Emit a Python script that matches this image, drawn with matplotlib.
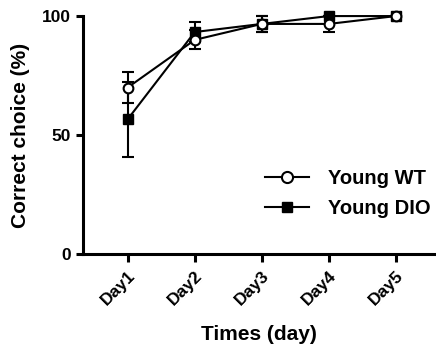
import numpy as np
import matplotlib
matplotlib.use("Agg")
import matplotlib.pyplot as plt
from matplotlib.lines import Line2D

plt.rcParams['font.family'] = ['Liberation Sans', 'DejaVu Sans']
plt.rcParams['font.weight'] = 'bold'

days = ["Day1", "Day2", "Day3", "Day4", "Day5"]
wt_mean = [70.0, 90.0, 96.7, 96.7, 100.0]
wt_err = [6.7, 4.0, 3.3, 3.3, 0.0]
dio_mean = [56.7, 93.3, 96.7, 100.0, 100.0]
dio_err = [15.8, 4.0, 3.3, 0.0, 0.0]

x = np.arange(1, len(days) + 1)

fig = plt.figure(figsize=(4.36, 3.57), dpi=100)
ax = fig.add_axes([0.19, 0.288, 0.81, 0.667])

ax.errorbar(x, dio_mean, yerr=dio_err, color='black', marker='s', ms=6.5,
            mfc='black', mec='black', lw=1.5, elinewidth=1.5, capsize=4,
            capthick=1.5, clip_on=False, zorder=3)
ax.errorbar(x, wt_mean, yerr=wt_err, color='black', marker='o', ms=7,
            mfc='white', mec='black', mew=1.5, lw=1.5, elinewidth=1.5, capsize=4,
            capthick=1.5, clip_on=False, zorder=4)

ax.set_xlim(0.33, 5.6)
ax.set_ylim(0, 100)
ax.set_yticks([0, 50, 100])
ax.set_xticks(x)
ax.set_xticklabels(days, rotation=45, ha='right', rotation_mode='anchor')

for s in ['top', 'right']:
    ax.spines[s].set_visible(False)
for s in ['left', 'bottom']:
    ax.spines[s].set_linewidth(2.2)
ax.tick_params(axis='both', width=2.2, length=5, labelsize=12.5)
ax.tick_params(axis='x', length=6, pad=4)

ax.set_ylabel('Correct choice (%)', fontsize=15, fontweight='bold', labelpad=9)
ax.set_xlabel('Times (day)', fontsize=15, fontweight='bold', labelpad=12)

handles = [
    Line2D([], [], color='black', lw=1.5, marker='o', ms=8, mfc='white', mew=1.5),
    Line2D([], [], color='black', lw=1.5, marker='s', ms=7, mfc='black'),
]
ax.legend(handles, ['Young WT', 'Young DIO'], loc='lower right',
          bbox_to_anchor=(1.035, 0.075), frameon=False, fontsize=14.5,
          handlelength=2.2, labelspacing=0.55, handletextpad=0.9)

fig.savefig('out.png', dpi=100)
